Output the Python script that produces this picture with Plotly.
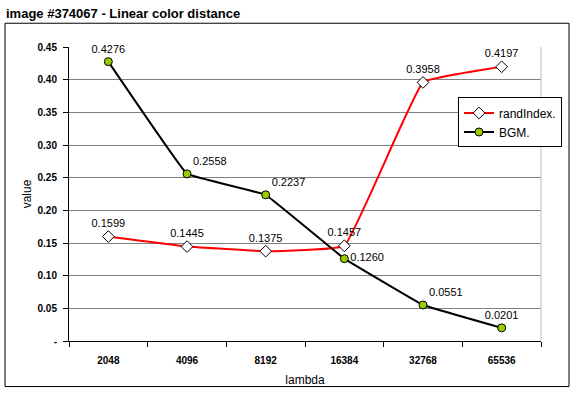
import plotly.graph_objects as go

categories = ["2048", "4096", "8192", "16384", "32768", "65536"]
rand_index = [0.1599, 0.1445, 0.1375, 0.1457, 0.3958, 0.4197]
bgm = [0.4276, 0.2558, 0.2237, 0.1260, 0.0551, 0.0201]
y_ticks = [0, 0.05, 0.10, 0.15, 0.20, 0.25, 0.30, 0.35, 0.40, 0.45]
y_tick_labels = ["-", "0.05", "0.10", "0.15", "0.20", "0.25", "0.30", "0.35", "0.40", "0.45"]

W, H = 575, 396
L, R, T, B = 69, 541, 47, 344

def px(x):
    return (x - L) / (R - L)

def py(y):
    return (B - y) / (B - T)

fig = go.Figure()
fig.add_trace(go.Scatter(
    x=categories, y=rand_index, name="randIndex.",
    mode="lines+markers+text", cliponaxis=False,
    line=dict(color="#ff0000", width=2, shape="spline", smoothing=0.25),
    marker=dict(symbol="diamond", size=9, color="white", line=dict(color="black", width=1)),
    text=[f"{v:.4f}" for v in rand_index],
    textposition="top center",
    textfont=dict(family="Arial, Liberation Sans", size=11, color="black"),
))
fig.add_trace(go.Scatter(
    x=categories, y=bgm, name="BGM.",
    mode="lines+markers+text", cliponaxis=False,
    line=dict(color="black", width=2, shape="spline", smoothing=0.15),
    marker=dict(symbol="circle", size=8, color="#99cc00", line=dict(color="black", width=1)),
    text=[f"{v:.4f}" for v in bgm],
    textposition=["top center", "top right", "top right", "middle right", "top right", "top center"],
    textfont=dict(family="Arial, Liberation Sans", size=11, color="black"),
))

fig.update_layout(
    width=W, height=H,
    margin=dict(l=L, r=W - R, t=T, b=H - B, pad=0),
    paper_bgcolor="white", plot_bgcolor="white",
    font=dict(family="Arial, Liberation Sans", size=12, color="black"),
    showlegend=True,
    legend=dict(
        x=px(458), y=py(98), xanchor="left", yanchor="top",
        bgcolor="white", bordercolor="black", borderwidth=1,
        font=dict(family="Arial, Liberation Sans", size=12),
        tracegroupgap=0, itemwidth=30,
    ),
    xaxis=dict(
        type="category", range=[-0.5, 5.5],
        showgrid=False, showline=True, linecolor="black", linewidth=1,
        ticks="outside", tickson="boundaries", ticklen=5, tickcolor="black",
        ticklabelstandoff=10,
        tickfont=dict(family="Arial, Liberation Sans", size=10, weight="bold"),
        title=dict(text="lambda", font=dict(size=12), standoff=10),
        zeroline=False,
    ),
    yaxis=dict(
        range=[0, 0.45], tickvals=y_ticks, ticktext=y_tick_labels,
        showgrid=True, gridcolor="#808080", gridwidth=1,
        showline=True, linecolor="black", linewidth=1,
        ticks="outside", ticklen=5, tickcolor="black",
        ticklabelstandoff=4,
        tickfont=dict(family="Arial, Liberation Sans", size=10, weight="bold"),
        title=dict(text="value", font=dict(size=12), standoff=3),
        zeroline=False,
    ),
    shapes=[
        dict(type="rect", xref="paper", yref="paper",
             x0=px(5), x1=px(569), y0=py(390), y1=py(23),
             line=dict(color="black", width=1), layer="below"),
        dict(type="line", xref="paper", yref="paper",
             x0=1, x1=1, y0=0, y1=1, line=dict(color="#c0c0c0", width=1)),
    ],
    annotations=[
        dict(text="<b>image #374067 - Linear color distance</b>", xref="paper", yref="paper",
             x=px(4), y=py(13), xanchor="left", yanchor="middle", showarrow=False,
             font=dict(family="Arial, Liberation Sans", size=13, color="black")),
    ],
)

fig.write_html("out.html", config={"displayModeBar": False},
               post_script="document.body.style.margin='0';document.body.style.padding='0';")
